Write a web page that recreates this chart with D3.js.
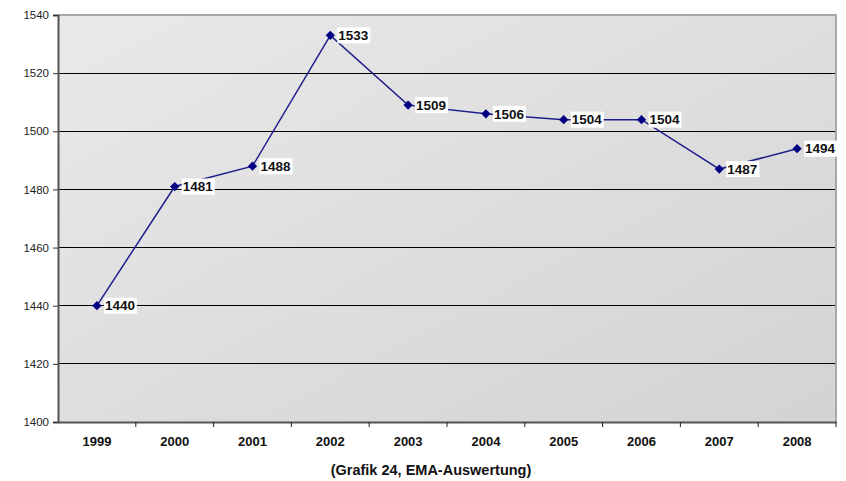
<!DOCTYPE html>
<html>
<head>
<meta charset="utf-8">
<script src="https://cdn.jsdelivr.net/npm/d3@7"></script>
<style>
  html, body { margin: 0; padding: 0; background: #fff; }
  svg { display: block; font-family: Arial, "Liberation Sans", sans-serif; }
</style>
</head>
<body>
<svg id="chart" width="846" height="481"></svg>
<script>
// Yearly values of the series
const years = ["1999", "2000", "2001", "2002", "2003", "2004", "2005", "2006", "2007", "2008"];
const values = [1440, 1481, 1488, 1533, 1509, 1506, 1504, 1504, 1487, 1494];
const yTicks = [1400, 1420, 1440, 1460, 1480, 1500, 1520, 1540];
const caption = "(Grafik 24, EMA-Auswertung)";

const svg = d3.select("#chart");
const m = { left: 58, top: 15, right: 836, bottom: 422 };

const x = d3.scaleBand().domain(years).range([m.left, m.right]);
const y = d3.scaleLinear().domain([1400, 1540]).range([m.bottom, m.top]);

// Plot area background with soft diagonal gradient
const defs = svg.append("defs");
const grad = defs.append("linearGradient").attr("id", "bg")
  .attr("x1", "0%").attr("y1", "0%").attr("x2", "100%").attr("y2", "100%");
grad.append("stop").attr("offset", "0%").attr("stop-color", "#e9e9e9");
grad.append("stop").attr("offset", "100%").attr("stop-color", "#d3d3d3");

svg.append("rect")
  .attr("x", m.left).attr("y", m.top)
  .attr("width", m.right - m.left).attr("height", m.bottom - m.top)
  .attr("fill", "url(#bg)");

// Horizontal gridlines
svg.append("g").selectAll("line")
  .data(yTicks.filter(t => t > 1400 && t < 1540))
  .join("line")
  .attr("x1", m.left).attr("x2", m.right)
  .attr("y1", d => y(d)).attr("y2", d => y(d))
  .attr("stroke", "#000").attr("stroke-width", 1)
  .attr("shape-rendering", "crispEdges");

// Top and right frame
svg.append("path")
  .attr("d", `M${m.left},${y(1540)}H${m.right}V${m.bottom}`)
  .attr("fill", "none").attr("stroke", "#a8a8a8").attr("stroke-width", 2);

// Y axis
const yAxis = svg.append("g")
  .attr("transform", `translate(${m.left},0)`)
  .call(d3.axisLeft(y).tickValues(yTicks).tickSize(5).tickPadding(4).tickFormat(d3.format("d")));
yAxis.select(".domain").attr("stroke", "#555").attr("stroke-width", 2);
yAxis.selectAll(".tick line").attr("stroke", "#333");
yAxis.selectAll("text").attr("font-size", 11.5).attr("fill", "#222")
  .attr("font-family", "Arial, 'Liberation Sans', sans-serif");

// X axis with ticks at category boundaries
const xAxis = svg.append("g")
  .attr("transform", `translate(0,${m.bottom})`)
  .call(d3.axisBottom(x).tickSize(0).tickPadding(15));
xAxis.select(".domain").attr("stroke", "#555").attr("stroke-width", 2);
xAxis.selectAll("text").attr("font-size", 13).attr("font-weight", "bold").attr("fill", "#111")
  .attr("font-family", "Arial, 'Liberation Sans', sans-serif");
xAxis.selectAll("line.sep")
  .data(years)
  .join("line").attr("class", "sep")
  .attr("x1", d => x(d) + x.bandwidth())
  .attr("x2", d => x(d) + x.bandwidth())
  .attr("y1", 0).attr("y2", 5)
  .attr("stroke", "#222");

// Series line
const pts = years.map((yr, i) => ({ yr, v: values[i] }));
const cx = d => x(d.yr) + x.bandwidth() / 2;

svg.append("path")
  .datum(pts)
  .attr("d", d3.line().x(cx).y(d => y(d.v)))
  .attr("fill", "none").attr("stroke", "#1e1e8a").attr("stroke-width", 1.5);

// Diamond markers
svg.append("g").selectAll("path")
  .data(pts).join("path")
  .attr("transform", d => `translate(${cx(d)},${y(d.v)})`)
  .attr("d", d3.symbol().type(d3.symbolDiamond2).size(55))
  .attr("fill", "#000080");

// Value labels on white boxes
const lab = svg.append("g").selectAll("g").data(pts).join("g")
  .attr("transform", d => `translate(${cx(d) + 8},${y(d.v)})`);
lab.append("rect")
  .attr("x", -1).attr("y", -8).attr("width", 33).attr("height", 16)
  .attr("fill", "#fff");
lab.append("text")
  .attr("x", 0).attr("y", 0).attr("dy", "0.36em")
  .attr("font-size", 13).attr("font-weight", "bold").attr("fill", "#111")
  .attr("textLength", 30).attr("lengthAdjust", "spacingAndGlyphs")
  .text(d => d.v);

// Caption
svg.append("text")
  .attr("x", 431).attr("y", 475)
  .attr("text-anchor", "middle")
  .attr("font-size", 14.5).attr("font-weight", "bold").attr("fill", "#111")
  .text(caption);
</script>
</body>
</html>
